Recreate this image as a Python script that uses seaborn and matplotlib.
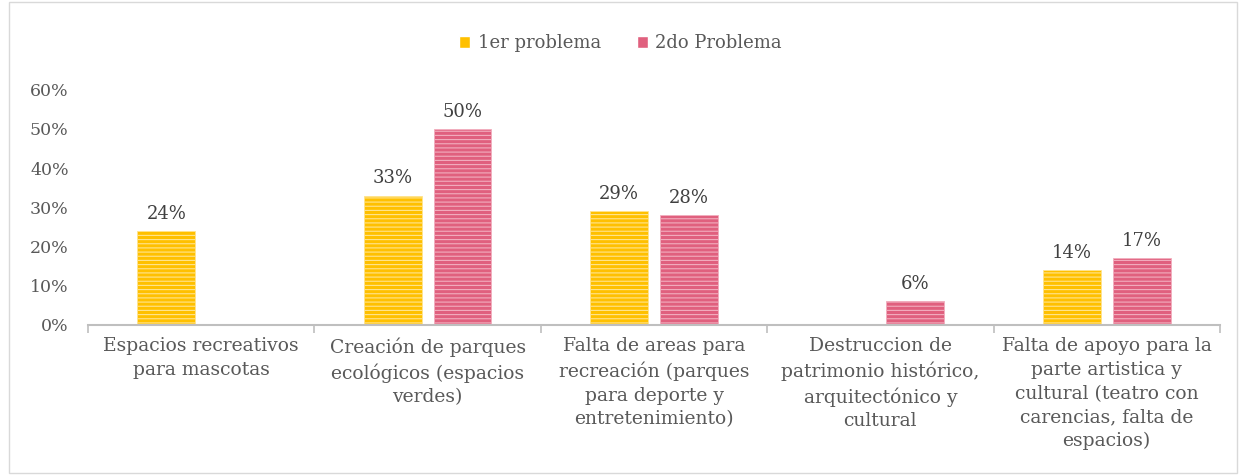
import pandas as pd
import seaborn as sns
import matplotlib
matplotlib.use("Agg")
import matplotlib.pyplot as plt
from matplotlib.patches import Rectangle

# ================================
# Data
# ================================
categories = [
    "Espacios recreativos\npara mascotas",
    "Creación de parques\necológicos (espacios\nverdes)",
    "Falta de areas para\nrecreación (parques\npara deporte y\nentretenimiento)",
    "Destruccion de\npatrimonio histórico,\narquitectónico y\ncultural",
    "Falta de apoyo para la\nparte artistica y\ncultural (teatro con\ncarencias, falta de\nespacios)",
]
series = ["1er problema", "2do Problema"]
primero = [24, 33, 29, 0, 14]
segundo = [0, 50, 28, 6, 17]
yticks = [0, 10, 20, 30, 40, 50, 60]

colors = {"1er problema": "#FFC000", "2do Problema": "#E0607E"}
edge = {"1er problema": "#FFE48F", "2do Problema": "#F2AEBE"}

df = pd.DataFrame({
    "categoria": categories * 2,
    "serie": [series[0]] * 5 + [series[1]] * 5,
    "valor": primero + segundo,
})

# ================================
# Plot
# ================================
sns.set_style("white")
plt.rcParams["font.family"] = ["DejaVu Serif"]
plt.rcParams["hatch.linewidth"] = 0.8

fig = plt.figure(figsize=(12.41, 4.75), dpi=100)
ax = fig.add_axes([0.071, 0.316, 0.912, 0.495])

sns.barplot(
    data=df, x="categoria", y="valor", hue="serie",
    hue_order=series, order=categories, palette=colors, saturation=1,
    width=0.616, gap=0.17, ax=ax, legend=True,
)

# hatching + labels
for cont, s in zip(ax.containers, series):
    for bar in cont:
        bar.set_hatch("----")
        bar.set_edgecolor(edge[s])
        bar.set_linewidth(0.6)
    labels = [f"{v:.0f}%" if v > 0 else "" for v in cont.datavalues]
    ax.bar_label(cont, labels=labels, padding=6, fontsize=13, color="#404040")

ax.set_ylim(0, 60)
ax.set_yticks(yticks)
ax.set_yticklabels([f"{t}%" for t in yticks], fontsize=12.5, color="#595959")
ax.set_xlim(-0.5, len(categories) - 0.5)
ax.set_xticks(range(len(categories)))
ax.set_xticklabels(categories, fontsize=13.5, color="#595959", linespacing=1.4)
ax.set_xticks([i - 0.5 for i in range(len(categories) + 1)], minor=True)
ax.tick_params(axis="x", which="major", length=0, pad=9)
ax.tick_params(axis="x", which="minor", length=6, width=1.2, color="#BFBFBF", direction="out")
ax.tick_params(axis="y", length=0, pad=14)
ax.xaxis.set_tick_params(bottom=True, which="minor")
ax.set_xlabel("")
ax.set_ylabel("")
for side in ["left", "right", "top"]:
    ax.spines[side].set_visible(False)
ax.spines["bottom"].set_color("#BFBFBF")
ax.spines["bottom"].set_linewidth(1.5)

# legend
handles, labs = ax.get_legend_handles_labels()
ax.legend(
    handles, labs, loc="center", bbox_to_anchor=(0.5, 0.909),
    bbox_transform=fig.transFigure, ncol=2, frameon=False,
    fontsize=13, labelcolor="#595959", handlelength=0.6, handleheight=0.6,
    handletextpad=0.4, columnspacing=2.0,
)

# marco de la figura
fig.patches.append(Rectangle((0.007, 0.004), 0.99, 0.992, transform=fig.transFigure,
                             fill=False, edgecolor="#D9D9D9", linewidth=1.0))

plt.savefig("out.png", dpi=100)
plt.close()
